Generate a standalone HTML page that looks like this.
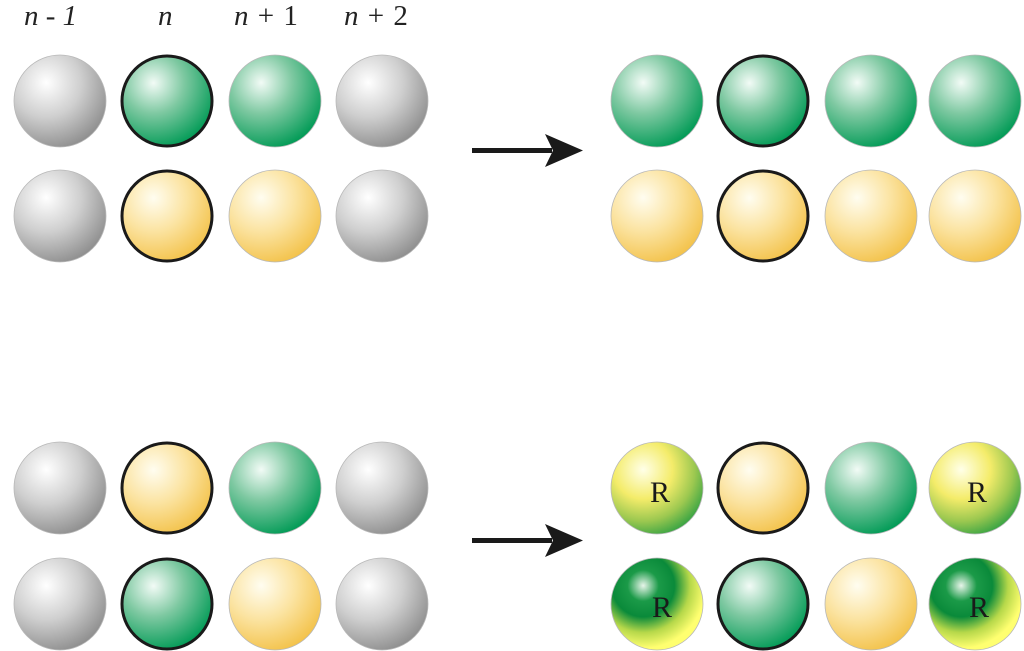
<!DOCTYPE html>
<html><head><meta charset="utf-8"><style>body{margin:0;background:#fff}svg{display:block}</style></head><body>
<svg width="1024" height="651" viewBox="0 0 1024 651" xmlns="http://www.w3.org/2000/svg">
<defs>
<radialGradient id="g" cx="0.35" cy="0.3" r="0.75" fx="0.35" fy="0.3"><stop offset="0" stop-color="#ffffff"/><stop offset="0.5" stop-color="#cfcfcf"/><stop offset="1" stop-color="#8e8e8e"/></radialGradient>
<radialGradient id="t" cx="0.35" cy="0.3" r="0.75" fx="0.35" fy="0.3"><stop offset="0" stop-color="#f2fbf6"/><stop offset="0.45" stop-color="#7fc9a2"/><stop offset="1" stop-color="#009a55"/></radialGradient>
<radialGradient id="y" cx="0.35" cy="0.3" r="0.75" fx="0.35" fy="0.3"><stop offset="0" stop-color="#fffdf0"/><stop offset="0.5" stop-color="#fbe3a0"/><stop offset="1" stop-color="#f3c24a"/></radialGradient>
<radialGradient id="ry" cx="0.35" cy="0.3" r="0.8" fx="0.35" fy="0.3"><stop offset="0" stop-color="#ffffe8"/><stop offset="0.4" stop-color="#f4ec6a"/><stop offset="0.7" stop-color="#9cc850"/><stop offset="1" stop-color="#1e9a40"/></radialGradient>
<radialGradient id="rg" cx="0.35" cy="0.3" r="0.85" fx="0.35" fy="0.3"><stop offset="0" stop-color="#e8f5ea"/><stop offset="0.2" stop-color="#1b9a48"/><stop offset="0.4" stop-color="#0a8a3a"/><stop offset="0.6" stop-color="#b6d84a"/><stop offset="0.8" stop-color="#ffff70"/><stop offset="1" stop-color="#ffff70"/></radialGradient>
</defs>
<g font-family="Liberation Serif, serif" font-size="29" fill="#222">
<text x="24" y="25"><tspan font-style="italic">n</tspan> - <tspan font-style="italic">1</tspan></text>
<text x="158" y="25" font-style="italic">n</text>
<text x="234" y="25"><tspan font-style="italic">n</tspan> <tspan dx="2">+</tspan> <tspan dx="2">1</tspan></text>
<text x="344" y="25"><tspan font-style="italic">n</tspan> <tspan dx="2">+</tspan> <tspan dx="2">2</tspan></text>
</g>
<g stroke="#b8b8b8" stroke-width="0.8">
<circle cx="60" cy="101" r="46" fill="url(#g)"/>
<circle cx="275" cy="101" r="46" fill="url(#t)"/>
<circle cx="382" cy="101" r="46" fill="url(#g)"/>
<circle cx="60" cy="216" r="46" fill="url(#g)"/>
<circle cx="275" cy="216" r="46" fill="url(#y)"/>
<circle cx="382" cy="216" r="46" fill="url(#g)"/>
<circle cx="657" cy="101" r="46" fill="url(#t)"/>
<circle cx="871" cy="101" r="46" fill="url(#t)"/>
<circle cx="975" cy="101" r="46" fill="url(#t)"/>
<circle cx="657" cy="216" r="46" fill="url(#y)"/>
<circle cx="871" cy="216" r="46" fill="url(#y)"/>
<circle cx="975" cy="216" r="46" fill="url(#y)"/>
<circle cx="60" cy="488" r="46" fill="url(#g)"/>
<circle cx="275" cy="488" r="46" fill="url(#t)"/>
<circle cx="382" cy="488" r="46" fill="url(#g)"/>
<circle cx="60" cy="604" r="46" fill="url(#g)"/>
<circle cx="275" cy="604" r="46" fill="url(#y)"/>
<circle cx="382" cy="604" r="46" fill="url(#g)"/>
<circle cx="657" cy="488" r="46" fill="url(#ry)"/>
<circle cx="871" cy="488" r="46" fill="url(#t)"/>
<circle cx="975" cy="488" r="46" fill="url(#ry)"/>
<circle cx="657" cy="604" r="46" fill="url(#rg)"/>
<circle cx="871" cy="604" r="46" fill="url(#y)"/>
<circle cx="975" cy="604" r="46" fill="url(#rg)"/>
</g>
<g stroke="#1a1a1a" stroke-width="3">
<circle cx="167" cy="101" r="45" fill="url(#t)"/>
<circle cx="167" cy="216" r="45" fill="url(#y)"/>
<circle cx="763" cy="101" r="45" fill="url(#t)"/>
<circle cx="763" cy="216" r="45" fill="url(#y)"/>
<circle cx="167" cy="488" r="45" fill="url(#y)"/>
<circle cx="167" cy="604" r="45" fill="url(#t)"/>
<circle cx="763" cy="488" r="45" fill="url(#y)"/>
<circle cx="763" cy="604" r="45" fill="url(#t)"/>
</g>
<g font-family="Liberation Serif, serif" font-size="30" fill="#1a1a1a" text-anchor="middle">
<text x="660" y="502">R</text>
<text x="977" y="502">R</text>
<text x="662" y="617">R</text>
<text x="979" y="617">R</text>
</g>
<g fill="#1a1a1a">
<rect x="472" y="148" width="80" height="5"/>
<polygon points="545,134 583,150.5 545,167 553,150.5"/>
<rect x="472" y="538" width="80" height="5"/>
<polygon points="545,524 583,540.5 545,557 553,540.5"/>
</g>
</svg>
</body></html>
